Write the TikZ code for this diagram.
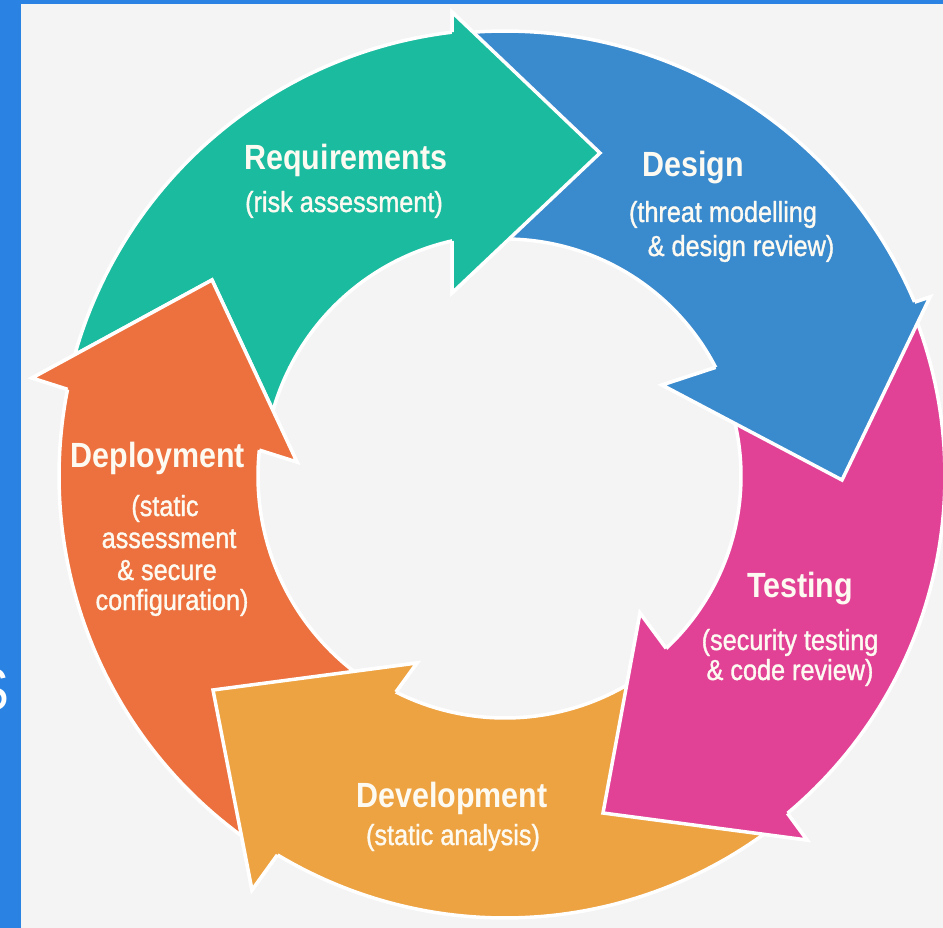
\documentclass[tikz,border=0pt]{standalone}
\usepackage{fontspec}
\setmainfont{Liberation Sans}[FakeStretch=0.87]
\newfontfamily\notefont{Liberation Sans}[FakeStretch=0.87, FakeBold=1.2]
\definecolor{framebg}{HTML}{2A82E2}
\definecolor{paper}{HTML}{F4F4F4}
\definecolor{reqc}{HTML}{1BBBA0}
\definecolor{desc}{HTML}{3A8ACE}
\definecolor{tstc}{HTML}{E14296}
\definecolor{devc}{HTML}{EEA342}
\definecolor{depc}{HTML}{EC713E}
\definecolor{txt}{HTML}{FDFAF2}
% ring centre (505,476); #1 colour, #2 outer radius, #3 inner radius,
% #4 tail angle, #5 outer notch angle, #6 inner notch angle, #7 name
\newcommand{\ringarrow}[7]{%
  \coordinate (#7-no) at ({505+#2*cos(#5)},{476+#2*sin(#5)});
  \coordinate (#7-ni) at ({505+#3*cos(#6)},{476+#3*sin(#6)});
  \path[fill=#1, rim]
    plot[domain=#4:#5, samples=60] ({505+#2*cos(\x)},{476+#2*sin(\x)})
    -- (#7-bo) -- (#7-tip) -- (#7-bi)
    -- plot[domain=#6:#4, samples=60] ({505+#3*cos(\x)},{476+#3*sin(\x)})
    -- cycle;}
% arrow head laid again on top of the next arrow's tail
\newcommand{\ringhead}[2]{%
  \fill[#1] (#2-no) -- (#2-bo) -- (#2-tip) -- (#2-bi) -- (#2-ni) -- cycle;
  \draw[rim] (#2-no) -- (#2-bo) -- (#2-tip) -- (#2-bi) -- (#2-ni);}
\begin{document}
\begin{tikzpicture}[x=1pt,y=-1pt,
  rim/.style={draw=white, line width=3.5pt, line join=miter},
  ttl/.style={text=txt, font=\fontsize{35}{40}\selectfont\bfseries, inner sep=0pt, anchor=base},
  sub/.style={text=txt, font=\notefont\fontsize{29}{34}\selectfont, inner sep=0pt, anchor=base}]
\useasboundingbox (0,0) rectangle (943,928);
\fill[framebg] (0,0) rectangle (943,928);
\fill[paper] (21,4) rectangle (943,928);
\begin{scope}
  \clip (0,0) rectangle (21,928);
  \node[text=white, font=\fontsize{60}{60}\selectfont, inner sep=0pt, anchor=base east] (edge) at (10,710) {S};
\end{scope}

% head points of the five arrows
\coordinate (req-bo) at (452,12);  \coordinate (req-tip) at (600,153); \coordinate (req-bi) at (452,293);
\coordinate (des-bo) at (930,297); \coordinate (des-tip) at (842,480); \coordinate (des-bi) at (662,385);
\coordinate (tst-bo) at (807,840); \coordinate (tst-tip) at (603,813); \coordinate (tst-bi) at (640,613);
\coordinate (dev-bo) at (252,890); \coordinate (dev-tip) at (213,690); \coordinate (dev-bi) at (417,663);
\coordinate (dep-bo) at (32,378);  \coordinate (dep-tip) at (212,280); \coordinate (dep-bi) at (297,462);

\ringarrow{reqc}{447}{241}{192.5}{263.19}{257.30}{req}
\ringarrow{desc}{445}{237}{265}{337.0}{332.72}{des}
\ringarrow{tstc}{440}{236}{338}{410.06}{406.94}{tst}
\ringarrow{devc}{442}{242}{53}{121.0}{116.8}{dev}
\ringarrow{depc}{446}{247}{124}{191.21}{186.02}{dep}

\ringhead{reqc}{req}
\ringhead{desc}{des}
\ringhead{tstc}{tst}
\ringhead{devc}{dev}
\ringhead{depc}{dep}

% labels
\node[ttl] (req-t) at (346,170) {Requirements};
\node[sub] (req-s) at (344,212) {(risk assessment)};

\node[ttl] (des-t) at (693,177) {Design};
\node[sub] (des-s1) at (723,222) {(threat modelling};
\node[sub] (des-s2) at (741,256) {\& design review)};

\node[ttl] (tst-t) at (800,597) {Testing};
\node[sub] (tst-s1) at (790,650) {(security testing};
\node[sub] (tst-s2) at (790,680) {\& code review)};

\node[ttl] (dev-t) at (452,807) {Development};
\node[sub] (dev-s) at (453,845) {(static analysis)};

\node[ttl] (dep-t) at (158,467) {Deployment};
\node[sub] (dep-s1) at (165,516) {(static};
\node[sub] (dep-s2) at (169,548) {assessment};
\node[sub] (dep-s3) at (167,580) {\& secure};
\node[sub] (dep-s4) at (172,610) {configuration)};
\end{tikzpicture}
\end{document}
